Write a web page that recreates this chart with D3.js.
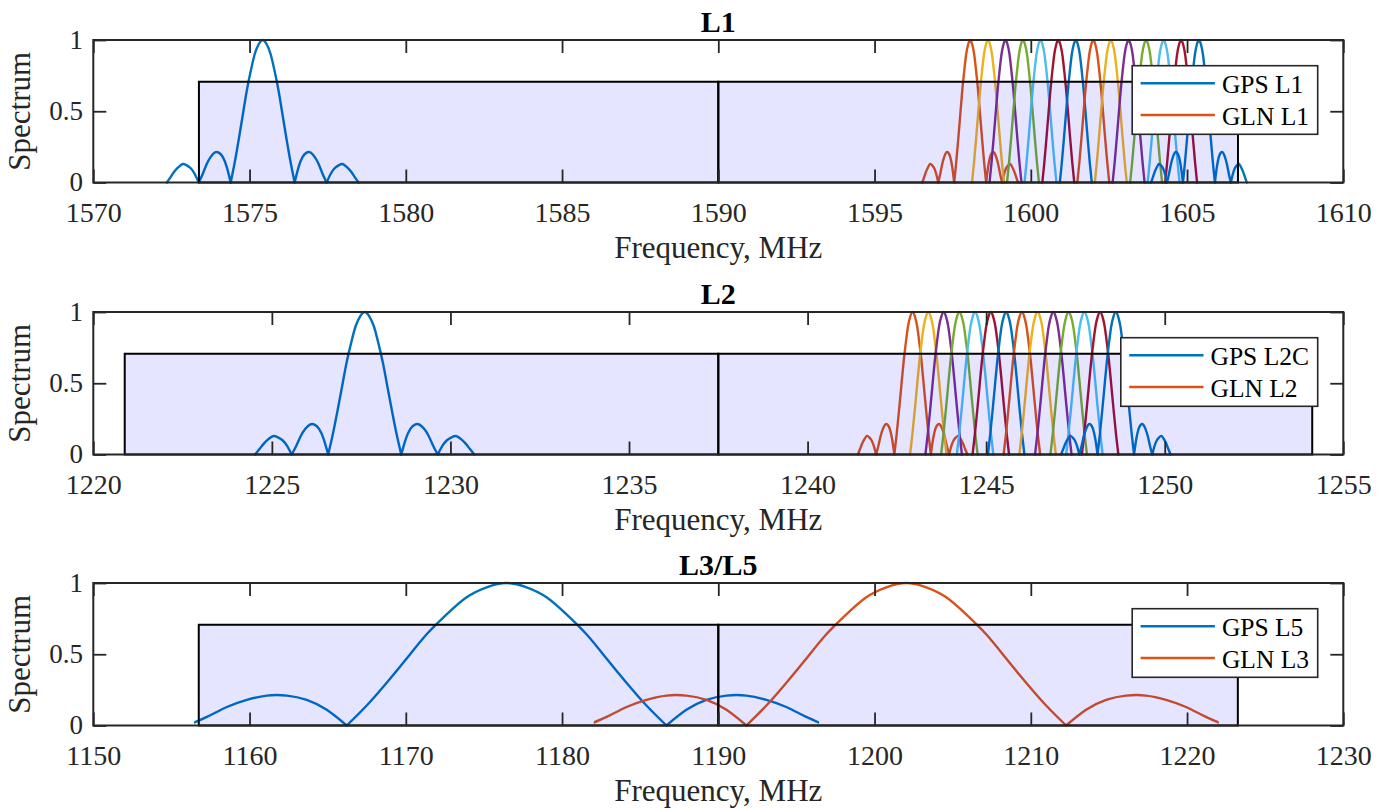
<!DOCTYPE html>
<html>
<head>
<meta charset="utf-8">
<script src="https://cdn.jsdelivr.net/npm/d3@7"></script>
<style>
  body { margin: 0; background: #fff; }
  text { font-family: "Liberation Serif", "Times New Roman", serif; fill: #262626; }
</style>
</head>
<body>
<script>
// matlab default colour order
var lineColors = ["#0072BD", "#D95319", "#EDB120", "#7E2F8E", "#77AC30", "#4DBEEE", "#A2142F"];

var panelTitles = ["L1", "L2", "L3/L5"];
var xDomains = [[1570, 1610], [1220, 1255], [1150, 1230]];
var xTicks = [
  [1570, 1575, 1580, 1585, 1590, 1595, 1600, 1605, 1610],
  [1220, 1225, 1230, 1235, 1240, 1245, 1250, 1255],
  [1150, 1160, 1170, 1180, 1190, 1200, 1210, 1220, 1230]
];
var yTicks = [0, 0.5, 1];
var legendNames = [["GPS L1", "GLN L1"], ["GPS L2C", "GLN L2"], ["GPS L5", "GLN L3"]];

// front-end filter band (two halves split at the centre line)
var bandEdges = [[1573.38, 1590, 1606.63], [1220.88, 1237.5, 1254.13], [1156.75, 1190, 1223.25]];
var bandLevel = 0.707;

// spectrum lobe shape: offset in chips -> level (one side, mirrored below)
var lobeChips = [0, 0.125, 0.25, 0.375, 0.5, 0.625, 0.75, 0.875, 1,
                 1.125, 1.25, 1.375, 1.5, 1.625, 1.75, 1.875, 2,
                 2.125, 2.25, 2.375, 2.5, 2.625, 2.75, 2.875, 3];
var lobeLevel = [1, 0.97, 0.90, 0.78, 0.64, 0.47, 0.30, 0.14, 0,
                 0.11, 0.18, 0.21, 0.21, 0.18, 0.13, 0.06, 0,
                 0.06, 0.10, 0.12, 0.13, 0.11, 0.08, 0.04, 0];

// GPS signals per panel
var gpsCenters = [1575.42, 1227.60, 1176.45];
var gpsChips = [1.023, 1.023, 10.23];
var gpsLobes = [3, 3, 2];
var gpsSpans = [3.07, 3.07, 20];

// GLONASS FDMA channels per panel
var glnL1Centers = [1598.06, 1598.63, 1599.19, 1599.75, 1600.31, 1600.88, 1601.44,
                    1602.00, 1602.56, 1603.13, 1603.69, 1604.25, 1604.81, 1605.38];
var glnL2Centers = [1242.94, 1243.38, 1243.81, 1244.25, 1244.69, 1245.13, 1245.56,
                    1246.00, 1246.44, 1246.88, 1247.31, 1247.75, 1248.19, 1248.63];
var glnL3Centers = [1202.03];
var glnL1Lobes = [3, 1, 1, 1, 1, 1, 1, 1, 1, 1, 1, 1, 1, 3];
var glnL2Lobes = [3, 1, 1, 1, 1, 1, 1, 1, 1, 1, 1, 1, 1, 3];
var glnL3Lobes = [2];
var glnChips = [0.511, 0.511, 10.23];
var glnSpans = [1.54, 1.54, 20];

var glnCenters = [glnL1Centers, glnL2Centers, glnL3Centers];
var glnLobes = [glnL1Lobes, glnL2Lobes, glnL3Lobes];

var W = 1390, H = 808;
var axLeft = 93.3, axRight = 1343.3, axHeight = 142.5;
var axTops = [40, 312, 583];
var tickLen = 13;
var ink = "#262626";
var serif = '"Liberation Serif", "Times New Roman", serif';

var svg = d3.select("body").append("svg").attr("width", W).attr("height", H);
var defs = svg.append("defs");
var clipCount = 0;

// both sides of the lobe table
var shape = [];
lobeChips.forEach(function (c, j) {
  if (c > 0) shape.unshift([-c, lobeLevel[j]]);
});
lobeChips.forEach(function (c, j) { shape.push([c, lobeLevel[j]]); });

// split the lobe table at its zeros so every lobe is its own smooth piece
function lobeSegments(lobes) {
  var bounds = [];
  for (var b = -lobes; b <= lobes; b++) {
    if (b !== 0) bounds.push(b);
  }
  var segs = [];
  for (var i = 0; i < bounds.length - 1; i++) {
    var a = bounds[i], z = bounds[i + 1];
    segs.push(shape.filter(function (d) { return d[0] >= a && d[0] <= z; }));
  }
  return segs;
}

function drawTrace(g, x, y, top, center, chip, lobes, span, color) {
  var line = d3.line()
    .x(function (d) { return x(center + d[0] * chip); })
    .y(function (d) { return y(d[1]); })
    .curve(d3.curveNatural);

  var path = g.append("path")
    .attr("d", lobeSegments(lobes).map(line).join(""))
    .attr("fill", "none")
    .attr("stroke", color)
    .attr("stroke-width", 2.4)
    .attr("stroke-linejoin", "round")
    .attr("stroke-linecap", "round");

  if (span < lobes * chip) {
    var id = "clip" + (clipCount++);
    defs.append("clipPath").attr("id", id).append("rect")
      .attr("x", x(center - span))
      .attr("y", top - 10)
      .attr("width", x(center + span) - x(center - span))
      .attr("height", axHeight + 20);
    path.attr("clip-path", "url(#" + id + ")");
  }
}

panelTitles.forEach(function (title, i) {
  var top = axTops[i], bottom = top + axHeight;
  var x = d3.scaleLinear().domain(xDomains[i]).range([axLeft, axRight]);
  var y = d3.scaleLinear().domain([0, 1]).range([bottom, top]);
  var g = svg.append("g");

  // spectra
  drawTrace(g, x, y, top, gpsCenters[i], gpsChips[i], gpsLobes[i], gpsSpans[i], lineColors[0]);
  glnCenters[i].forEach(function (c, j) {
    drawTrace(g, x, y, top, c, glnChips[i], glnLobes[i][j], glnSpans[i], lineColors[(j + 1) % lineColors.length]);
  });

  // filter band patch
  var edges = bandEdges[i];
  for (var k = 0; k < edges.length - 1; k++) {
    g.append("rect")
      .attr("x", x(edges[k]))
      .attr("y", y(bandLevel))
      .attr("width", x(edges[k + 1]) - x(edges[k]))
      .attr("height", y(0) - y(bandLevel))
      .attr("fill", "#0000ff")
      .attr("fill-opacity", 0.1)
      .attr("stroke", "#000")
      .attr("stroke-width", 2);
  }

  // axes, ticks pointing inward on all four sides
  var bottomAxis = g.append("g").attr("transform", "translate(0," + bottom + ")")
    .call(d3.axisBottom(x).tickValues(xTicks[i]).tickSize(-tickLen).tickPadding(19.6).tickFormat(d3.format("d")));
  g.append("g").attr("transform", "translate(0," + top + ")")
    .call(d3.axisTop(x).tickValues(xTicks[i]).tickSize(-tickLen).tickFormat(""));
  var leftAxis = g.append("g").attr("transform", "translate(" + axLeft + ",0)")
    .call(d3.axisLeft(y).tickValues(yTicks).tickSize(-tickLen).tickPadding(10.3).tickFormat(d3.format("")));
  g.append("g").attr("transform", "translate(" + axRight + ",0)")
    .call(d3.axisRight(y).tickValues(yTicks).tickSize(-tickLen).tickFormat(""));

  g.selectAll(".domain").remove();
  g.selectAll(".tick line").attr("stroke", ink).attr("stroke-width", 1.8);
  [bottomAxis, leftAxis].forEach(function (a) {
    a.attr("font-family", null).attr("font-size", null);
    a.selectAll("text")
      .style("font-family", serif)
      .style("font-size", "28px")
      .style("fill", ink);
  });
  leftAxis.selectAll("text").style("font-size", "27px").attr("dy", "0.3em");

  g.append("rect")
    .attr("x", axLeft).attr("y", top)
    .attr("width", axRight - axLeft).attr("height", axHeight)
    .attr("fill", "none").attr("stroke", ink).attr("stroke-width", 2);

  // labels
  var midX = (axLeft + axRight) / 2;
  g.append("text").attr("x", midX).attr("y", top - 8.3)
    .attr("text-anchor", "middle").attr("font-size", 30).attr("font-weight", "bold")
    .style("fill", "#000").text(title);
  g.append("text").attr("x", midX).attr("y", bottom + 75)
    .attr("text-anchor", "middle").attr("font-size", 31).text("Frequency, MHz");
  g.append("text")
    .attr("transform", "translate(30," + (top + axHeight / 2) + ") rotate(-90)")
    .attr("text-anchor", "middle").attr("font-size", 31).text("Spectrum");

  // legend
  var lg = g.append("g");
  var box = lg.append("rect");
  var txt = legendNames[i].map(function (n) {
    return lg.append("text").attr("font-size", 25.5).style("fill", "#000").text(n);
  });
  var tw = d3.max(txt, function (t) { return t.node().getComputedTextLength(); });
  var lgRight = axRight - 25.6, lgW = 89.7 + tw + 8.7, lgLeft = lgRight - lgW, lgTop = top + 25.7;
  box.attr("x", lgLeft).attr("y", lgTop).attr("width", lgW).attr("height", 68.6)
    .attr("fill", "#fff").attr("stroke", ink).attr("stroke-width", 1.6);
  txt.forEach(function (t, r) {
    var ry = lgTop + 17.6 + r * 31.7;
    lg.insert("line", "text")
      .attr("x1", lgLeft + 8.4).attr("x2", lgLeft + 82.7)
      .attr("y1", ry).attr("y2", ry)
      .attr("stroke", lineColors[r]).attr("stroke-width", 2.4);
    t.attr("x", lgLeft + 89.7).attr("y", ry + 10);
  });
});
</script>
</body>
</html>
